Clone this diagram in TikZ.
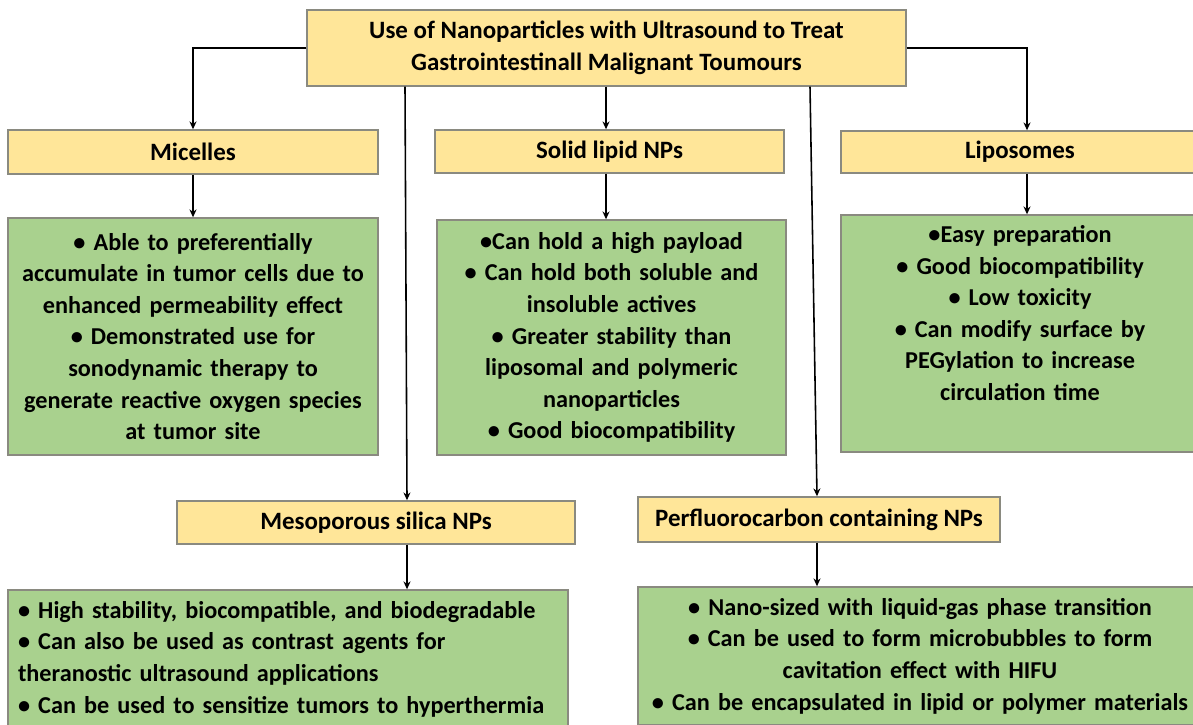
\documentclass[tikz,border=0pt]{standalone}
\usepackage{fontspec}
\setmainfont{Carlito}
\usepackage{tikz}
\usetikzlibrary{calc,arrows.meta,positioning}

\definecolor{headfill}{HTML}{FFE699}
\definecolor{infofill}{HTML}{A9D18E}
\definecolor{boxedge}{HTML}{8A8A80}

\begin{document}
\begin{tikzpicture}[x=0.02cm, y=-0.02cm,
			headbox/.style={rectangle, fill=headfill, draw=boxedge, thick, inner sep=0pt, align=center,
				font=\fontsize{14.2}{18}\selectfont\bfseries},
			infobox/.style={rectangle, fill=infofill, draw=boxedge, thick, inner sep=0pt, align=center,
				font=\fontsize{13.8}{18}\selectfont\bfseries},
			link/.style={draw=black, line width=0.9pt, -{Stealth[length=4.5pt, width=4pt]}}
		]
		\useasboundingbox (0,0) rectangle (1193,724);
		\clip (0,0) rectangle (1193,724);

		% Top: main topic
		\node[headbox, minimum width=11.98cm, minimum height=1.52cm] (title) at (606.5,48)
			{Use of Nanoparticles with Ultrasound to Treat\\ Gastrointestinall Malignant Toumours};

		% Row 1: categories
		\begin{scope}
			\node[headbox, minimum width=7.4cm, minimum height=0.88cm] (mic) at (193,152) {Micelles};
			\node[headbox, minimum width=6.98cm, minimum height=0.86cm] (sol) at (609.5,151.5) {Solid lipid NPs};
			\node[headbox, minimum width=7.16cm, minimum height=0.84cm] (lip) at (1020,152) {Liposomes};

			\node[infobox, minimum width=7.4cm, minimum height=4.74cm, text width=7.2cm] (micinfo) at (193,336.5)
				{• Able to preferentially\\ accumulate in tumor cells due to\\ enhanced permeability effect\\
				 • Demonstrated use for\\ sonodynamic therapy to\\ generate reactive oxygen species\\ at tumor site};
			\node[infobox, minimum width=6.98cm, minimum height=4.7cm, text width=6.8cm] (solinfo) at (611.5,337.5)
				{•Can hold a high payload\\ • Can hold both soluble and\\ insoluble actives\\
				 • Greater stability than\\ liposomal and polymeric\\ nanoparticles\\ • Good biocompatibility};
			\node[infobox, minimum width=7.16cm, minimum height=4.74cm, text width=7cm] (lipinfo) at (1020,333.5)
				{•Easy preparation\\ • Good biocompatibility\\ • Low toxicity\\
				 • Can modify surface by\\ PEGylation to increase\\ circulation time\\ \strut};
		\end{scope}

		% Row 2: categories
		\begin{scope}
			\node[headbox, minimum width=7.96cm, minimum height=0.86cm] (meso) at (376,522.5) {Mesoporous silica NPs};
			\node[headbox, minimum width=7.24cm, minimum height=0.9cm] (perf) at (819,519.5) {Perfluorocarbon containing NPs};

			\node[infobox, align=left, minimum width=11.2cm, minimum height=2.76cm, text width=10.8cm] (mesoinfo) at (288,659)
				{• High stability, biocompatible, and biodegradable\\ • Can also be used as contrast agents for\\
				 theranostic ultrasound applications\\ • Can be used to sensitize tumors to hyperthermia};
			\node[infobox, minimum width=11.28cm, minimum height=2.76cm, text width=11cm] (perfinfo) at (920,656)
				{• Nano-sized with liquid-gas phase transition\\ • Can be used to form microbubbles to form\\
				 cavitation effect with HIFU\\ • Can be encapsulated in lipid or polymer materials};
		\end{scope}

		% Connectors
		\draw[link] (title.west) -| (mic.north);
		\draw[link] (title.east) -| ($(lip.north)+(7,0)$);
		\draw[link] ($(title.south)+(-0.5,0)$) -- ($(sol.north)+(-3.5,0)$);
		\draw[link] ($(title.south)+(-201.5,0)$) -- ($(meso.north)+(31,0)$);
		\draw[link] ($(title.south)+(203.5,0)$) -- ($(perf.north)+(-2,0)$);

		\foreach \a/\b/\d in {mic/micinfo/0, sol/solinfo/-3.5, lip/lipinfo/7, meso/mesoinfo/31, perf/perfinfo/-2}
			\draw[link] ($(\a.south)+(\d,0)$) coordinate (top) -- (top |- \b.north);
	\end{tikzpicture}
\end{document}
